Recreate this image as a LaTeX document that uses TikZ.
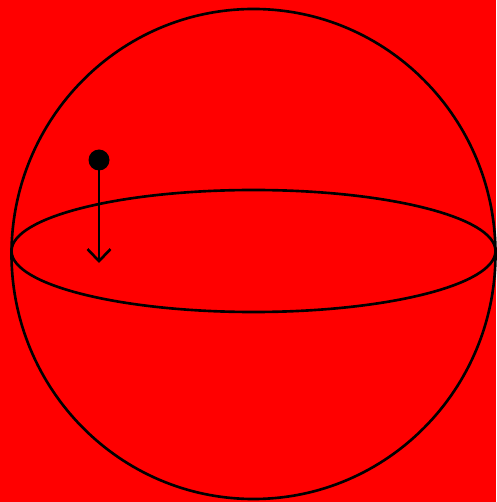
\documentclass[tikz,border=0pt]{standalone}
\usepackage{tikz}
\usetikzlibrary{arrows.meta,positioning}
\definecolor{bgred}{RGB}{255,0,0}
\tikzset{
  rim/.style={draw=black,line width=1.5pt},
  mass/.style={circle,fill=black,inner sep=0pt,minimum size=0.42cm},
  arr/.style={-{Straight Barb[length=0.24cm,width=0.46cm]},line width=1.5pt,color=black}
}

\begin{document}
\begin{tikzpicture}[x=0.02cm,y=-0.02cm]
    \fill[bgred] (0,0) rectangle (496,502);
    \useasboundingbox (0,0) rectangle (496,502);
    \draw[rim] (253.5,254) circle [x radius=242,y radius=245];
    \draw[rim] (253.5,251) ellipse [x radius=242,y radius=61];
    \node[mass] (ball) at (99,160) {};
    \coordinate (drop) at (99,263);

    \draw[arr] (ball.center) -- (drop);
  \end{tikzpicture}
\end{document}
